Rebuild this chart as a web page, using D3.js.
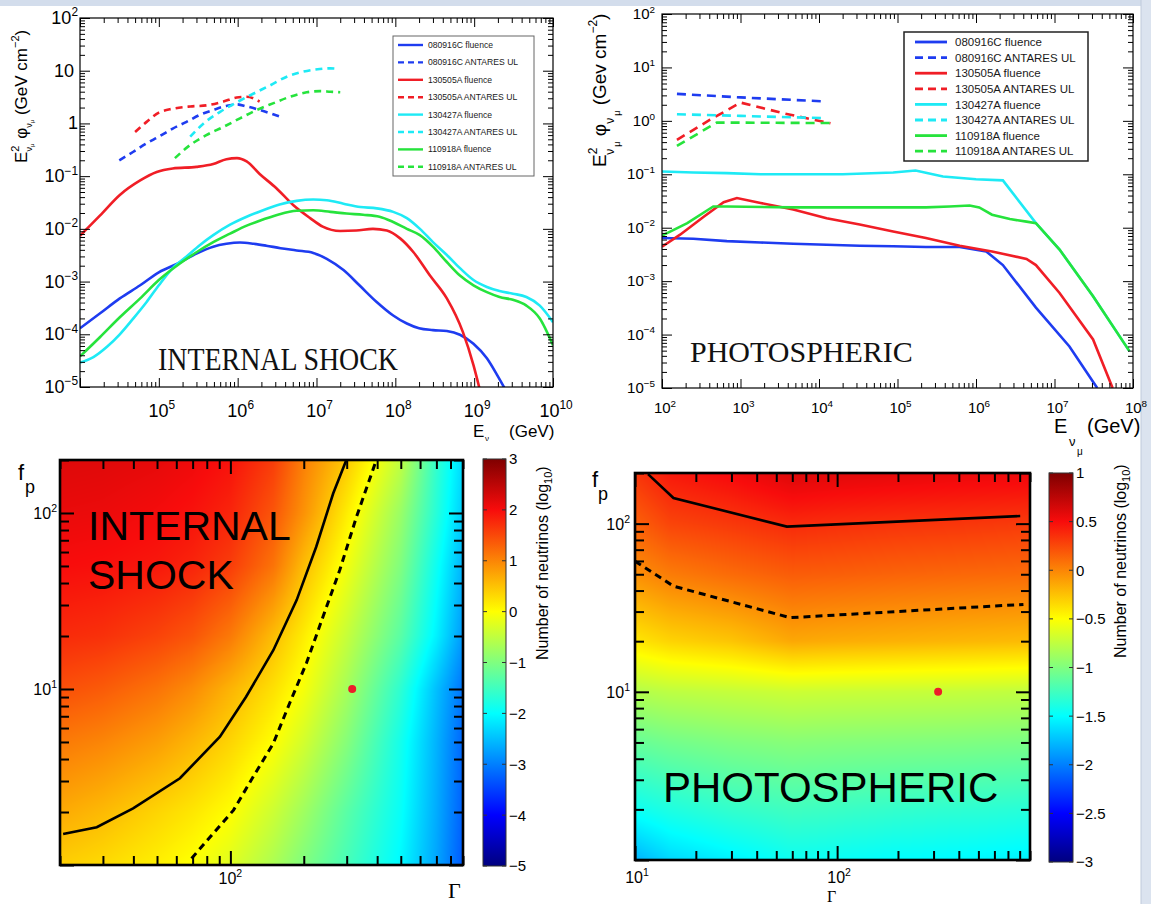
<!DOCTYPE html>
<html lang="en">
<head>
<meta charset="utf-8">
<title>GRB neutrino fluences and ANTARES limits</title>
<script src="https://cdn.jsdelivr.net/npm/d3@7"></script>
<style>
  body { margin: 0; background: #fff; }
  svg { display: block; font-family: "Liberation Sans", Arial, sans-serif; }
  .serif { font-family: "Liberation Serif", "Times New Roman", serif; }
</style>
</head>
<body>
<script>

// ---------- data: internal shock fluences (E [GeV], E^2 phi [GeV cm^-2]) ----------
var isFlu080916C = [[1e4,1.3e-4],[1.8e4,2.5e-4],[3.2e4,4.8e-4],[5.8e4,8.5e-4],[1.0e5,1.5e-3],[1.85e5,2.3e-3],[3.0e5,3.4e-3],[4.9e5,4.6e-3],[7.2e5,5.2e-3],[1.07e6,5.5e-3],[1.6e6,5.2e-3],[2.3e6,4.8e-3],[3.5e6,4.3e-3],[5.6e6,3.9e-3],[9.1e6,3.5e-3],[1.35e7,2.7e-3],[2.2e7,1.65e-3],[3.5e7,8.5e-4],[5.8e7,4.1e-4],[9.3e7,2.3e-4],[1.4e8,1.6e-4],[2.0e8,1.3e-4],[3.0e8,1.2e-4],[4.5e8,1.15e-4],[6.6e8,9.8e-5],[9.8e8,6.6e-5],[1.45e9,3.5e-5],[1.95e9,1.7e-5],[2.45e9,9.3e-6]];
var isFlu130505A = [[1e4,7.4e-3],[1.8e4,1.8e-2],[3.2e4,4.4e-2],[5.8e4,8.3e-2],[9.4e4,0.12],[1.5e5,0.14],[3.0e5,0.15],[4.9e5,0.17],[7.2e5,0.21],[9.8e5,0.22],[1.3e6,0.19],[1.9e6,0.11],[3.1e6,5.9e-2],[5.1e6,2.8e-2],[8.3e6,1.6e-2],[1.2e7,1.1e-2],[2.0e7,9.1e-3],[3.2e7,9.3e-3],[5.2e7,1.0e-2],[7.8e7,9.3e-3],[1.15e8,6.6e-3],[1.7e8,3.6e-3],[2.75e8,1.3e-3],[4.5e8,4.8e-4],[7.2e8,1.1e-4],[9.8e8,2.6e-5],[1.17e9,9.3e-6]];
var isFlu130427A = [[1e4,2.9e-5],[1.48e4,3.7e-5],[2.2e4,5.8e-5],[3.2e4,1.0e-4],[4.75e4,2.0e-4],[7.0e4,4.1e-4],[1.0e5,8.5e-4],[1.5e5,1.8e-3],[2.25e5,3.0e-3],[3.3e5,4.9e-3],[4.9e5,7.6e-3],[8.0e5,1.2e-2],[1.3e6,1.7e-2],[2.1e6,2.25e-2],[3.4e6,2.9e-2],[5.6e6,3.4e-2],[9.1e6,3.6e-2],[1.35e7,3.5e-2],[2.2e7,3.0e-2],[3.6e7,2.6e-2],[5.8e7,2.45e-2],[9.4e7,2.1e-2],[1.4e8,1.6e-2],[2.05e8,1.0e-2],[3.0e8,5.6e-3],[4.5e8,3.2e-3],[6.6e8,1.8e-3],[9.8e8,1.07e-3],[1.45e9,7.9e-4],[2.1e9,6.6e-4],[3.1e9,5.9e-4],[4.6e9,5.1e-4],[6.8e9,3.5e-4],[1e10,1.7e-4]];
var isFlu110918A = [[1e4,3.8e-5],[1.8e4,8.9e-5],[3.2e4,2.1e-4],[5.8e4,4.8e-4],[1.0e5,1.07e-3],[1.85e5,2.2e-3],[3.0e5,3.6e-3],[4.9e5,5.6e-3],[8.0e5,8.1e-3],[1.3e6,1.15e-2],[2.1e6,1.5e-2],[3.4e6,1.9e-2],[5.6e6,2.2e-2],[9.1e6,2.25e-2],[1.5e7,2.1e-2],[2.4e7,1.95e-2],[3.9e7,1.85e-2],[6.3e7,1.7e-2],[9.4e7,1.35e-2],[1.4e8,1.0e-2],[2.05e8,7.6e-3],[3.0e8,4.6e-3],[4.5e8,2.35e-3],[6.6e8,1.3e-3],[9.8e8,8.5e-4],[1.45e9,6.3e-4],[2.1e9,5.1e-4],[3.1e9,4.5e-4],[4.6e9,3.5e-4],[6.8e9,2.0e-4],[1e10,6.2e-5]];
// internal shock ANTARES upper limits
var isUL080916C = [[3.15e4,0.20],[4.75e4,0.29],[7.0e4,0.42],[1.0e5,0.56],[1.5e5,0.80],[2.25e5,1.07],[3.3e5,1.45],[4.9e5,1.8],[7.2e5,2.15],[9.7e5,2.3],[1.3e6,2.1],[1.9e6,1.8],[2.6e6,1.55],[3.4e6,1.35]];
var isUL130505A = [[5.0e4,0.69],[7.0e4,1.07],[1.0e5,1.6],[1.5e5,1.9],[2.5e5,2.1],[4.0e5,2.2],[6.6e5,2.6],[9.7e5,3.1],[1.3e6,3.2],[1.9e6,2.6]];
var isUL130427A = [[2.5e5,0.56],[3.7e5,1.0],[6.0e5,1.66],[9.7e5,2.5],[1.6e6,3.7],[2.6e6,5.3],[4.2e6,7.7],[6.8e6,9.6],[1.1e7,10.8],[1.5e7,11.1],[1.9e7,10.8]];
var isUL110918A = [[1.6e5,0.22],[2.5e5,0.39],[4.0e5,0.60],[6.6e5,0.86],[1.07e6,1.25],[1.75e6,1.8],[2.8e6,2.4],[4.6e6,3.2],[7.5e6,3.9],[1.1e7,4.1],[1.5e7,4.0],[2.0e7,3.9]];

// ---------- data: photospheric fluences ----------
var phFlu080916C = [[1e2,6.4e-3],[2.5e2,6.2e-3],[6.7e2,5.6e-3],[1.8e3,5.3e-3],[4.7e3,5.0e-3],[1.25e4,4.8e-3],[3.3e4,4.6e-3],[8.8e4,4.5e-3],[2.3e5,4.35e-3],[6.2e5,4.35e-3],[1.35e6,3.6e-3],[2.2e6,2.0e-3],[5.8e6,3.2e-4],[1.55e7,6.0e-5],[3.5e7,1.0e-5]];
var phFlu130505A = [[1e2,4.4e-3],[1.7e2,7.4e-3],[3.4e2,1.6e-2],[6.1e2,3.0e-2],[9.0e2,3.6e-2],[1.8e3,2.9e-2],[4.7e3,2.2e-2],[1.25e4,1.5e-2],[3.3e4,1.15e-2],[8.8e4,8.5e-3],[2.3e5,6.4e-3],[6.2e5,4.6e-3],[1.6e6,3.6e-3],[4.4e6,2.6e-3],[5.8e6,2.0e-3],[1.16e7,6.0e-4],[3.1e7,8.1e-5],[5.5e7,1.0e-5]];
var phFlu130427A = [[1e2,0.113],[2.5e2,0.108],[6.7e2,0.105],[1.8e3,0.10],[4.7e3,0.10],[2.0e4,0.10],[8.8e4,0.108],[1.7e5,0.118],[3.8e5,0.091],[1.0e6,0.081],[2.2e6,0.077],[5.8e6,1.22e-2],[1.16e7,3.9e-3],[3.1e7,5.2e-4],[9.0e7,4.9e-5]];
var phFlu110918A = [[1e2,7.1e-3],[2.1e2,1.22e-2],[4.5e2,2.5e-2],[6.7e2,2.5e-2],[4.7e3,2.4e-2],[3.3e4,2.4e-2],[2.3e5,2.4e-2],[4.6e5,2.5e-2],[8.3e5,2.6e-2],[1.1e6,2.4e-2],[1.6e6,1.75e-2],[2.7e6,1.45e-2],[4.4e6,1.3e-2],[5.8e6,1.22e-2],[1.16e7,3.9e-3],[3.1e7,5.2e-4],[9.0e7,4.9e-5]];
var phUL080916C = [[1.55e2,3.2],[1e3,2.75],[1.25e4,2.3]];
var phUL130505A = [[1.55e2,0.44],[4.1e2,1.05],[1e3,2.2],[3.5e3,1.39],[1.4e4,0.90]];
var phUL130427A = [[1.55e2,1.33],[1e3,1.24],[1.25e4,1.12]];
var phUL110918A = [[1.55e2,0.34],[5.0e2,0.93],[1.4e4,0.91]];

var legendLabels = ["080916C fluence","080916C ANTARES UL","130505A fluence","130505A ANTARES UL",
                    "130427A fluence","130427A ANTARES UL","110918A fluence","110918A ANTARES UL"];

// ---------- data: number of neutrinos (log10) vs Gamma and f_p ----------
var isGamma = [20, 30, 50, 70, 100, 150, 200, 300, 500, 700, 900];
var isFp = [1, 2, 5, 10, 20, 50, 100, 200];
var isLogN = [
  [0.40, 0.30, 0.12, -0.03, -0.25, -0.65, -1.00, -1.45, -2.05, -2.70, -3.30],
  [0.70, 0.57, 0.35, 0.20, 0.00, -0.40, -0.75, -1.30, -1.95, -2.65, -3.25],
  [1.10, 1.00, 0.80, 0.60, 0.35, 0.00, -0.35, -0.95, -1.85, -2.60, -3.20],
  [1.45, 1.35, 1.15, 0.95, 0.62, 0.25, -0.07, -0.70, -1.65, -2.50, -3.10],
  [1.75, 1.70, 1.55, 1.40, 1.10, 0.55, 0.15, -0.45, -1.30, -2.10, -2.80],
  [2.00, 1.97, 1.90, 1.80, 1.60, 1.15, 0.55, -0.10, -1.00, -1.90, -2.60],
  [2.12, 2.10, 2.03, 1.95, 1.80, 1.40, 0.90, 0.15, -0.80, -1.70, -2.40],
  [2.22, 2.20, 2.15, 2.08, 1.95, 1.60, 1.05, 0.45, -0.50, -1.60, -2.30]
];
var isContourSolid = [[20.6,1.50],[28.3,1.64],[39.9,2.10],[62.1,3.11],[90.6,5.36],[116,9.04],[150,16.6],[187,32],[225,64.3],[264,129],[299,200]];
var isContourDashed = [[69.3,1.09],[85,1.51],[103,2.05],[124,3.17],[150,4.91],[175,8.3],[205,14],[240,25.8],[281,47.4],[329,95],[397,200]];

var phGamma = [10, 15, 30, 60, 100, 200, 400, 900];
var phFp = [1, 2, 5, 10, 20, 50, 100, 200];
var phLogN = [
  [-1.80, -1.65, -1.55, -1.45, -1.47, -1.50, -1.52, -1.55],
  [-1.45, -1.38, -1.30, -1.25, -1.27, -1.30, -1.32, -1.35],
  [-1.10, -1.05, -1.00, -0.97, -0.98, -0.99, -1.00, -1.02],
  [-0.80, -0.76, -0.73, -0.70, -0.71, -0.72, -0.73, -0.75],
  [-0.40, -0.32, -0.26, -0.14, -0.16, -0.18, -0.20, -0.22],
  [-0.04, 0.04, 0.11, 0.17, 0.16, 0.14, 0.125, 0.11],
  [0.15, 0.27, 0.32, 0.38, 0.36, 0.34, 0.33, 0.31],
  [0.33, 0.45, 0.52, 0.62, 0.60, 0.58, 0.56, 0.55]
];
var phContourSolid = [[11.6,197],[15.5,142],[56.4,96],[805,111]];
var phContourDashed = [[10,59.7],[15.5,42.5],[58.5,27.6],[835,33.1]];

var bestFit = [316, 10];
var isBarTicks = [3, 2, 1, 0, -1, -2, -3, -4, -5];
var phBarTicks = [1, 0.5, 0, -0.5, -1, -1.5, -2, -2.5, -3];

// ---------- styles ----------
var grbColors = ["#1e3cf0", "#f01e26", "#1eeaf5", "#26e33c"];
var jetColors = ["#00007f", "#0000ff", "#00ffff", "#ffff00", "#f80c0c", "#7f0000"];
var jetStops = [0, 0.125, 0.375, 0.625, 0.875, 1];

var w = 1151, h = 904;
var svg = d3.select("body").append("svg").attr("width", w).attr("height", h);
var defs = svg.append("defs");

// slide border strips
svg.append("rect").attr("x", 0).attr("y", 0).attr("width", w).attr("height", 6).attr("fill", "#d3ddec");
svg.append("rect").attr("x", 1141).attr("y", 0).attr("width", 10).attr("height", h).attr("fill", "#dbe3ef");
svg.append("line").attr("x1", 1141).attr("x2", 1141).attr("y1", 0).attr("y2", h).attr("stroke", "#bfcadb");

// ---------- helpers ----------
function decadeTicks(scale) {
  var d = scale.domain().map(Math.log10);
  var lo = Math.min(d[0], d[1]), hi = Math.max(d[0], d[1]);
  var major = [], minor = [];
  for (var e = Math.floor(lo); e <= Math.ceil(hi); e++) {
    for (var m = 1; m <= 9; m++) {
      var v = +(m + "e" + e), lv = Math.log10(v);
      if (lv < lo - 1e-9 || lv > hi + 1e-9) continue;
      (m === 1 ? major : minor).push(v);
    }
  }
  return {major: major, minor: minor};
}

function frameTicks(g, x, y, o) {
  var xr = x.range(), yr = y.range();
  var tx = decadeTicks(x), ty = decadeTicks(y);
  var sides = [
    [d3.axisBottom, x, "translate(0," + yr[0] + ")", tx, o.xMaj, o.xMin],
    [d3.axisTop, x, "translate(0," + yr[1] + ")", tx, o.xMaj, o.xMin],
    [d3.axisLeft, y, "translate(" + xr[0] + ",0)", ty, o.yMaj, o.yMin],
    [d3.axisRight, y, "translate(" + xr[1] + ",0)", ty, o.yMaj, o.yMin]
  ];
  sides.forEach(function(s) {
    [["major", s[4]], ["minor", s[5]]].forEach(function(k) {
      var a = g.append("g").attr("transform", s[2]).attr("color", "#000")
        .call(s[0](s[1]).tickValues(s[3][k[0]]).tickSizeInner(-k[1]).tickSizeOuter(0).tickFormat(""));
      a.select(".domain").remove();
      a.selectAll("line").attr("stroke-width", o.sw);
    });
  });
  g.append("rect").attr("x", xr[0]).attr("y", yr[1])
    .attr("width", xr[1] - xr[0]).attr("height", yr[0] - yr[1])
    .attr("fill", "none").attr("stroke", "#000").attr("stroke-width", o.frame);
}

function powLabel(g, x, y, base, exp, fs, anchor) {
  var t = g.append("text").attr("x", x).attr("y", y).attr("font-size", fs)
    .attr("text-anchor", anchor).attr("fill", "#000");
  t.append("tspan").text(base);
  if (exp !== null) t.append("tspan").attr("font-size", fs * 0.66).attr("dy", -fs * 0.42).text(exp);
  return t;
}

function expText(v) { return String(Math.round(Math.log10(v))).replace("-", "\u2212"); }

function clipFor(id, x, y) {
  var xr = x.range(), yr = y.range();
  defs.append("clipPath").attr("id", id).append("rect")
    .attr("x", xr[0]).attr("y", yr[1]).attr("width", xr[1] - xr[0]).attr("height", yr[0] - yr[1]);
  return "url(#" + id + ")";
}

function jetScale(vmin, vmax) {
  return d3.scaleLinear()
    .domain(jetStops.map(function(t) { return vmin + t * (vmax - vmin); }))
    .range(jetColors).clamp(true);
}

function drawHeatmap(g, x, y, gx, gy, grid, color) {
  var px0 = x.range()[0], px1 = x.range()[1], py1 = y.range()[0], py0 = y.range()[1];
  var cw = Math.round(px1 - px0), ch = Math.round(py1 - py0);
  var canvas = document.createElement("canvas");
  canvas.width = cw; canvas.height = ch;
  var ctx = canvas.getContext("2d");
  var img = ctx.createImageData(cw, ch);
  var lx = gx.map(Math.log10), ly = gy.map(Math.log10);
  function locate(arr, v) {
    var i = Math.max(0, Math.min(arr.length - 2, d3.bisectRight(arr, v) - 1));
    var t = Math.max(0, Math.min(1, (v - arr[i]) / (arr[i + 1] - arr[i])));
    return [i, t];
  }
  var cols = d3.range(cw).map(function(c) { return locate(lx, Math.log10(x.invert(px0 + c + 0.5))); });
  for (var r = 0; r < ch; r++) {
    var jy = locate(ly, Math.log10(y.invert(py0 + r + 0.5))), j = jy[0], ty = jy[1];
    for (var c = 0; c < cw; c++) {
      var i = cols[c][0], tx = cols[c][1];
      var v = (1 - tx) * (1 - ty) * grid[j][i] + tx * (1 - ty) * grid[j][i + 1]
            + (1 - tx) * ty * grid[j + 1][i] + tx * ty * grid[j + 1][i + 1];
      var col = d3.rgb(color(v)), k = (r * cw + c) * 4;
      img.data[k] = col.r; img.data[k + 1] = col.g; img.data[k + 2] = col.b; img.data[k + 3] = 255;
    }
  }
  ctx.putImageData(img, 0, 0);
  g.append("image").attr("x", px0).attr("y", py0).attr("width", cw).attr("height", ch)
    .attr("preserveAspectRatio", "none").attr("href", canvas.toDataURL());
}

function colorBar(id, x0, x1, y0, y1, vmin, vmax, ticks, titleX, titleY) {
  var grad = defs.append("linearGradient").attr("id", id)
    .attr("x1", 0).attr("y1", 1).attr("x2", 0).attr("y2", 0);
  jetStops.forEach(function(t, i) {
    grad.append("stop").attr("offset", t).attr("stop-color", jetColors[i]);
  });
  var s = d3.scaleLinear().domain([vmin, vmax]).range([y1, y0]);
  svg.append("rect").attr("x", x0).attr("y", y0).attr("width", x1 - x0).attr("height", y1 - y0)
    .attr("fill", "url(#" + id + ")").attr("stroke", "#333").attr("stroke-width", 1);
  var g = svg.append("g");
  g.selectAll("line.r").data(ticks).enter().append("line")
    .attr("x1", x1 - 4).attr("x2", x1).attr("y1", s).attr("y2", s).attr("stroke", "#333");
  g.selectAll("line.l").data(ticks).enter().append("line")
    .attr("x1", x0).attr("x2", x0 + 4).attr("y1", s).attr("y2", s).attr("stroke", "#333");
  g.selectAll("text").data(ticks).enter().append("text")
    .attr("x", x1 + 3).attr("y", s).attr("dy", "0.36em").attr("font-size", 15)
    .text(function(d) { return String(d).replace("-", "\u2212"); });
  var t = svg.append("text").attr("transform", "translate(" + titleX + "," + titleY + ") rotate(-90)")
    .attr("font-size", 16);
  t.append("tspan").text("Number of neutrinos (log");
  t.append("tspan").attr("font-size", 11).attr("dy", 4).text("10");
  t.append("tspan").attr("dy", -4).text(")");
}

function drawLegend(g, bx, by, bw, bh, rows, lx0, lx1, tx, fs, dash, lw, border) {
  g.append("rect").attr("x", bx).attr("y", by).attr("width", bw).attr("height", bh)
    .attr("fill", "#fff").attr("stroke", border[0]).attr("stroke-width", border[1]);
  legendLabels.forEach(function(lab, i) {
    var yy = rows(i);
    g.append("line").attr("x1", lx0).attr("x2", lx1).attr("y1", yy).attr("y2", yy)
      .attr("stroke", grbColors[Math.floor(i / 2)]).attr("stroke-width", lw)
      .attr("stroke-dasharray", i % 2 ? dash : null);
    g.append("text").attr("x", tx).attr("y", yy).attr("dy", "0.36em").attr("font-size", fs)
      .attr("fill", "#1a1a1a").text(lab);
  });
}

// ---------- top-left: internal shock spectra ----------
var xTL = d3.scaleLog().domain([1e4, 1e10]).range([80, 553]);
var yTL = d3.scaleLog().domain([1e-5, 1e2]).range([387, 18]);
var gTL = svg.append("g");
var isSeries = [isFlu080916C, isUL080916C, isFlu130505A, isUL130505A,
                isFlu130427A, isUL130427A, isFlu110918A, isUL110918A];
var lineTL = d3.line().x(function(d) { return xTL(d[0]); }).y(function(d) { return yTL(d[1]); })
  .curve(d3.curveMonotoneX);
var cTL = gTL.append("g").attr("clip-path", clipFor("clipTL", xTL, yTL));
isSeries.forEach(function(s, i) {
  cTL.append("path").datum(s).attr("d", lineTL).attr("fill", "none")
    .attr("stroke", grbColors[Math.floor(i / 2)]).attr("stroke-width", 2.6)
    .attr("stroke-dasharray", i % 2 ? "7,5" : null);
});
frameTicks(gTL, xTL, yTL, {xMaj: 9, xMin: 5, yMaj: 10, yMin: 5, sw: 1, frame: 1.2});
decadeTicks(yTL).major.forEach(function(v) {
  var e = Math.round(Math.log10(v));
  if (e === 0) powLabel(gTL, 78, yTL(v) + 6, "1", null, 18, "end");
  else if (e === 1) powLabel(gTL, 74, yTL(v) + 6, "10", null, 18, "end");
  else powLabel(gTL, 78, yTL(v) + 6, "10", expText(v), 18, "end");
});
decadeTicks(xTL).major.slice(1).forEach(function(v) {
  powLabel(gTL, xTL(v) + 3, 417, "10", expText(v), 18, "middle");
});
gTL.append("text").attr("x", 473).attr("y", 437).attr("font-size", 17).text("E");
gTL.append("text").attr("x", 485).attr("y", 441).attr("font-size", 8).text("\u03bd");
gTL.append("text").attr("x", 509).attr("y", 437).attr("font-size", 17).text("(GeV)");
(function() {
  var t = gTL.append("text").attr("transform", "translate(27,163) rotate(-90)").attr("font-size", 17);
  t.append("tspan").text("E");
  t.append("tspan").attr("font-size", 11).attr("dy", -8).text("2");
  t.append("tspan").attr("font-size", 9).attr("dx", -6).attr("dy", 13).text("\u03bd");
  t.append("tspan").attr("font-size", 6).attr("dy", 2).text("\u03bc");
  t.append("tspan").attr("dy", -7).text(" \u03c6");
  t.append("tspan").attr("font-size", 9).attr("dy", 5).text("\u03bd");
  t.append("tspan").attr("font-size", 6).attr("dy", 2).text("\u03bc");
  t.append("tspan").attr("dy", -7).text(" (GeV cm");
  t.append("tspan").attr("font-size", 11).attr("dy", -8).text("\u22122");
  t.append("tspan").attr("dy", 8).text(")");
})();
gTL.append("text").attr("class", "serif").attr("x", 158).attr("y", 370).attr("font-size", 31)
  .attr("textLength", 240).attr("lengthAdjust", "spacingAndGlyphs").attr("fill", "#111").text("INTERNAL SHOCK");
drawLegend(gTL, 393, 36, 141, 140, function(i) { return 45 + i * 17.4; }, 398, 423, 428, 8.6, "6,4", 2.4, ["#666", 1]);

// ---------- top-right: photospheric spectra ----------
var xTR = d3.scaleLog().domain([1e2, 1e8]).range([662, 1133]);
var yTR = d3.scaleLog().domain([1e-5, 1e2]).range([388, 14]);
var gTR = svg.append("g");
var phSeries = [phFlu080916C, phUL080916C, phFlu130505A, phUL130505A,
                phFlu130427A, phUL130427A, phFlu110918A, phUL110918A];
var lineTR = d3.line().x(function(d) { return xTR(d[0]); }).y(function(d) { return yTR(d[1]); });
var cTR = gTR.append("g").attr("clip-path", clipFor("clipTR", xTR, yTR));
phSeries.forEach(function(s, i) {
  cTR.append("path").datum(s).attr("d", lineTR).attr("fill", "none")
    .attr("stroke", grbColors[Math.floor(i / 2)]).attr("stroke-width", 2.6)
    .attr("stroke-dasharray", i % 2 ? "9,6" : null);
});
frameTicks(gTR, xTR, yTR, {xMaj: 9, xMin: 5, yMaj: 10, yMin: 5, sw: 1, frame: 1.2});
decadeTicks(yTR).major.forEach(function(v) {
  powLabel(gTR, 655, yTR(v) + 5, "10", expText(v), 15, "end");
});
decadeTicks(xTR).major.forEach(function(v) {
  powLabel(gTR, xTR(v) + 3, 413, "10", expText(v), 15, "middle");
});
gTR.append("text").attr("x", 1054).attr("y", 433).attr("font-size", 20).text("E");
gTR.append("text").attr("x", 1069).attr("y", 446).attr("font-size", 13).text("\u03bd");
gTR.append("text").attr("x", 1077).attr("y", 455).attr("font-size", 10).text("\u03bc");
gTR.append("text").attr("x", 1087).attr("y", 433).attr("font-size", 20).text("(GeV)");
(function() {
  var t = gTR.append("text").attr("transform", "translate(606,167) rotate(-90)").attr("font-size", 19);
  t.append("tspan").text("E");
  t.append("tspan").attr("font-size", 12).attr("dy", -9).text("2");
  t.append("tspan").attr("font-size", 12).attr("dx", -7).attr("dy", 17).text("\u03bd");
  t.append("tspan").attr("font-size", 9).attr("dx", 2).attr("dy", 6).text("\u03bc");
  t.append("tspan").attr("dy", -14).text("  \u03c6");
  t.append("tspan").attr("font-size", 12).attr("dy", 8).text("\u03bd");
  t.append("tspan").attr("font-size", 9).attr("dx", 2).attr("dy", 6).text("\u03bc");
  t.append("tspan").attr("dy", -14).text("  (Gev cm");
  t.append("tspan").attr("font-size", 12).attr("dy", -9).text("\u22122");
  t.append("tspan").attr("dy", 9).text(")");
})();
gTR.append("text").attr("class", "serif").attr("x", 690).attr("y", 362).attr("font-size", 30)
  .attr("fill", "#111").text("PHOTOSPHERIC");
drawLegend(gTR, 904, 32, 184, 129, function(i) { return 42 + i * 15.6; }, 915, 947, 955, 11.5, "8,5", 2.8, ["#222", 1.5]);

// ---------- bottom-left: internal shock N_nu map ----------
var xBL = d3.scaleLog().domain([20, 900]).range([60, 463]);
var yBL = d3.scaleLog().domain([1, 200]).range([865, 460]);
var gBL = svg.append("g");
drawHeatmap(gBL, xBL, yBL, isGamma, isFp, isLogN, jetScale(-5, 3));
var cBL = gBL.append("g").attr("clip-path", clipFor("clipBL", xBL, yBL));
var lineBL = d3.line().x(function(d) { return xBL(d[0]); }).y(function(d) { return yBL(d[1]); });
cBL.append("path").datum(isContourSolid).attr("d", lineBL).attr("fill", "none").attr("stroke", "#000").attr("stroke-width", 2.6);
cBL.append("path").datum(isContourDashed).attr("d", lineBL).attr("fill", "none").attr("stroke", "#000")
  .attr("stroke-width", 3).attr("stroke-dasharray", "7,5");
gBL.append("circle").attr("cx", xBL(bestFit[0])).attr("cy", yBL(bestFit[1])).attr("r", 4).attr("fill", "#ec1c2a");
frameTicks(gBL, xBL, yBL, {xMaj: 14, xMin: 9, yMaj: 14, yMin: 9, sw: 2, frame: 2.6});
[100, 10].forEach(function(v) { powLabel(gBL, 57, yBL(v) + 6, "10", expText(v), 16, "end"); });
powLabel(gBL, xBL(100), 884, "10", "2", 16, "middle");
gBL.append("text").attr("x", 18).attr("y", 480).attr("font-size", 22).text("f");
gBL.append("text").attr("x", 25).attr("y", 493).attr("font-size", 18).text("p");
gBL.append("text").attr("class", "serif").attr("x", 448).attr("y", 898).attr("font-size", 22).text("\u0393");
gBL.append("text").attr("x", 88).attr("y", 540).attr("font-size", 41).attr("fill", "#000").text("INTERNAL");
gBL.append("text").attr("x", 88).attr("y", 589).attr("font-size", 41).attr("fill", "#000").text("SHOCK");
colorBar("jetBL", 483, 506, 459, 866, -5, 3, isBarTicks, 548, 660);

// ---------- bottom-right: photospheric N_nu map ----------
var xBR = d3.scaleLog().domain([10, 900]).range([635, 1030]);
var yBR = d3.scaleLog().domain([1, 200]).range([860, 473]);
var gBR = svg.append("g");
drawHeatmap(gBR, xBR, yBR, phGamma, phFp, phLogN, jetScale(-3, 1));
var cBR = gBR.append("g").attr("clip-path", clipFor("clipBR", xBR, yBR));
var lineBR = d3.line().x(function(d) { return xBR(d[0]); }).y(function(d) { return yBR(d[1]); });
cBR.append("path").datum(phContourSolid).attr("d", lineBR).attr("fill", "none").attr("stroke", "#000").attr("stroke-width", 2.6);
cBR.append("path").datum(phContourDashed).attr("d", lineBR).attr("fill", "none").attr("stroke", "#000")
  .attr("stroke-width", 3).attr("stroke-dasharray", "7,5");
gBR.append("circle").attr("cx", xBR(bestFit[0])).attr("cy", yBR(bestFit[1])).attr("r", 4).attr("fill", "#ec1c2a");
frameTicks(gBR, xBR, yBR, {xMaj: 14, xMin: 9, yMaj: 14, yMin: 9, sw: 2, frame: 2.6});
[100, 10].forEach(function(v) { powLabel(gBR, 630, yBR(v) + 6, "10", expText(v), 16, "end"); });
[10, 100].forEach(function(v) { powLabel(gBR, xBR(v) + 2, 883, "10", expText(v), 16, "middle"); });
gBR.append("text").attr("x", 592).attr("y", 487).attr("font-size", 22).text("f");
gBR.append("text").attr("x", 598).attr("y", 500).attr("font-size", 18).text("p");
gBR.append("text").attr("class", "serif").attr("x", 827).attr("y", 902).attr("font-size", 16).text("\u0393");
gBR.append("text").attr("x", 663).attr("y", 802).attr("font-size", 42).attr("fill", "#000").text("PHOTOSPHERIC");
colorBar("jetBR", 1049, 1073, 473, 862, -3, 1, phBarTicks, 1126, 658);

</script>
</body>
</html>
